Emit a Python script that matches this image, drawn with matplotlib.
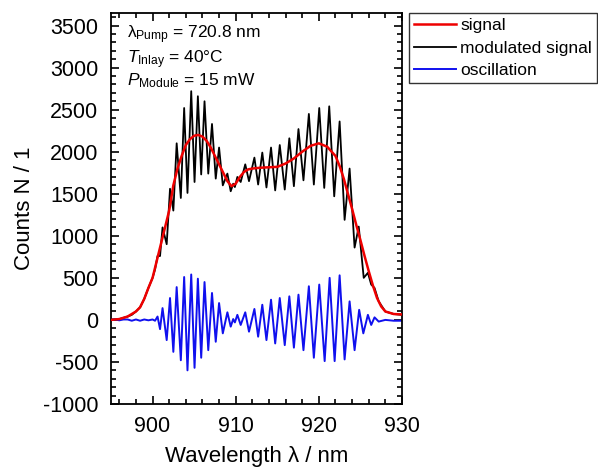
import matplotlib.pyplot as plt
from matplotlib.ticker import MultipleLocator

plt.rcParams['font.family'] = ['Liberation Sans', 'DejaVu Sans']
plt.rcParams['mathtext.fontset'] = 'custom'
plt.rcParams['mathtext.rm'] = 'Liberation Sans'
plt.rcParams['mathtext.it'] = 'Liberation Sans:italic'
plt.rcParams['axes.unicode_minus'] = False

# signal (smooth envelope)
signal_x = [895, 896, 897, 898, 898.5, 899, 899.5, 900, 900.5, 901, 901.5, 902, 902.5, 903,
            903.5, 904, 904.5, 905, 905.5, 906, 906.5, 907, 907.5, 908, 908.5, 909, 909.5,
            910, 910.5, 911, 911.5, 912, 913, 914, 915, 916, 917, 918, 919, 920, 921, 922,
            922.5, 923, 923.5, 924, 924.5, 925, 925.5, 926, 926.5, 927, 927.5, 928, 929, 930]
signal_y = [0, 10, 40, 100, 150, 250, 380, 500, 700, 900, 1100, 1300, 1600, 1800,
            1950, 2080, 2150, 2190, 2200, 2180, 2130, 2050, 1950, 1850, 1750, 1650, 1590,
            1620, 1700, 1760, 1790, 1800, 1810, 1815, 1820, 1860, 1920, 2000, 2070, 2100, 2060, 1950,
            1830, 1680, 1500, 1320, 1130, 950, 760, 580, 410, 260, 160, 100, 70, 65]

# modulated signal extrema
mod_x = [895, 896, 897, 897.5, 898, 898.5, 899, 899.5, 900, 900.3, 900.6, 900.9, 901.2, 901.7,
         902.1, 902.5, 902.9, 903.4, 903.8, 904.2, 904.65, 905.05, 905.45, 905.85, 906.25,
         906.7, 907.15, 907.6, 908.0, 908.45, 909.0, 909.4, 909.7, 909.9, 910.2, 910.6,
         911.15, 911.6, 912.25, 912.7, 913.2, 913.7, 914.25, 914.75, 915.3, 915.9, 916.45,
         917.0, 917.55, 918.15, 918.8, 919.4, 920.05, 920.65, 921.25, 921.85, 922.5, 923.1,
         923.7, 924.3, 924.8, 925.4, 925.9, 926.3, 926.7, 927.2, 928, 929, 930]
mod_y = [5, 10, 40, 60, 100, 150, 250, 380, 500, 600, 760, 760, 1100, 900,
         1560, 1300, 2100, 1450, 2520, 1510, 2720, 1640, 2660, 1730, 2600,
         1740, 2330, 1680, 2050, 1600, 1740, 1530, 1620, 1580, 1700, 1640,
         1850, 1650, 1930, 1610, 1990, 1575, 2050, 1540, 2080, 1550, 2160,
         1590, 2270, 1660, 2450, 1610, 2520, 1570, 2540, 1470, 2360, 1190,
         1800, 860, 1110, 500, 560, 420, 380, 220, 100, 70, 60]

# oscillation extrema
osc_x = [895, 895.5, 896, 896.5, 897, 897.5, 898, 898.5, 899, 899.5, 900, 900.3, 900.6, 900.9,
         901.2, 901.7, 902.1, 902.5, 902.9, 903.4, 903.8, 904.2, 904.65, 905.05, 905.45,
         905.85, 906.25, 906.7, 907.15, 907.6, 908.0, 908.45, 909.0, 909.4, 909.7, 909.9,
         910.2, 910.6, 911.15, 911.6, 912.25, 912.7, 913.2, 913.7, 914.25, 914.75, 915.3,
         915.9, 916.45, 917.0, 917.55, 918.15, 918.8, 919.4, 920.05, 920.7, 921.3, 921.9,
         922.5, 923.1, 923.7, 924.3, 924.85, 925.35, 925.9, 926.3, 926.7, 927.2, 928, 929, 930]
osc_y = [0, 5, -5, 5, 5, -10, 5, -10, 5, -5, 5, -10, 40, -110,
         140, -240, 260, -380, 390, -480, 510, -600, 540, -570, 490,
         -450, 450, -360, 320, -260, 200, -160, 90, -80, 10, -30,
         60, -60, 90, -140, 130, -200, 180, -240, 240, -280, 260,
         -300, 280, -330, 300, -360, 400, -450, 420, -490, 500, -490,
         530, -470, 220, -360, 120, -160, 60, -60, 30, -20, 0, -10, -10]

fig = plt.figure(figsize=(5.98, 4.71), dpi=100)
ax = fig.add_axes([0.1856, 0.1423, 0.4866, 0.8301])

l_mod, = ax.plot(mod_x, mod_y, color='black', lw=1.3, label='modulated signal', zorder=2)
l_sig, = ax.plot(signal_x, signal_y, color='#ee0000', lw=1.8, label='signal', zorder=3)
l_osc, = ax.plot(osc_x, osc_y, color='#1010ee', lw=1.4, label='oscillation', zorder=2)

ax.set_xlim(895, 930)
ax.set_ylim(-1000, 3650)
ax.xaxis.set_major_locator(MultipleLocator(10))
ax.xaxis.set_minor_locator(MultipleLocator(2))
ax.yaxis.set_major_locator(MultipleLocator(500))
ax.yaxis.set_minor_locator(MultipleLocator(100))
ax.tick_params(which='both', direction='in', top=True, right=True, width=1.2)
ax.tick_params(which='major', length=6, labelsize=15.5)
ax.tick_params(axis='x', which='major', pad=9)
ax.tick_params(axis='y', which='major', pad=9)
ax.tick_params(which='minor', length=3.5)
for s in ax.spines.values():
    s.set_linewidth(1.3)

ax.set_xlabel('Wavelength λ / nm', fontsize=16, labelpad=6)
ax.set_ylabel('Counts N / 1', fontsize=16, labelpad=6)

ax.text(0.055, 0.936, r'λ$_{\mathrm{Pump}}$ = 720.8 nm', transform=ax.transAxes, fontsize=12.5)
ax.text(0.055, 0.872, r'$T_{\mathrm{Inlay}}$ = 40°C', transform=ax.transAxes, fontsize=12.5)
ax.text(0.055, 0.816, r'$P_{\mathrm{Module}}$ = 15 mW', transform=ax.transAxes, fontsize=12.5)

leg = ax.legend(handles=[l_sig, l_mod, l_osc], loc='upper left', bbox_to_anchor=(1.024, 1.0),
                borderaxespad=0, fontsize=12.5, frameon=True, fancybox=False,
                handlelength=2.4, handletextpad=0.25, labelspacing=0.42, borderpad=0.3)
leg.get_frame().set_edgecolor('black')
leg.get_frame().set_linewidth(1.0)

fig.savefig('out.png', dpi=100)
